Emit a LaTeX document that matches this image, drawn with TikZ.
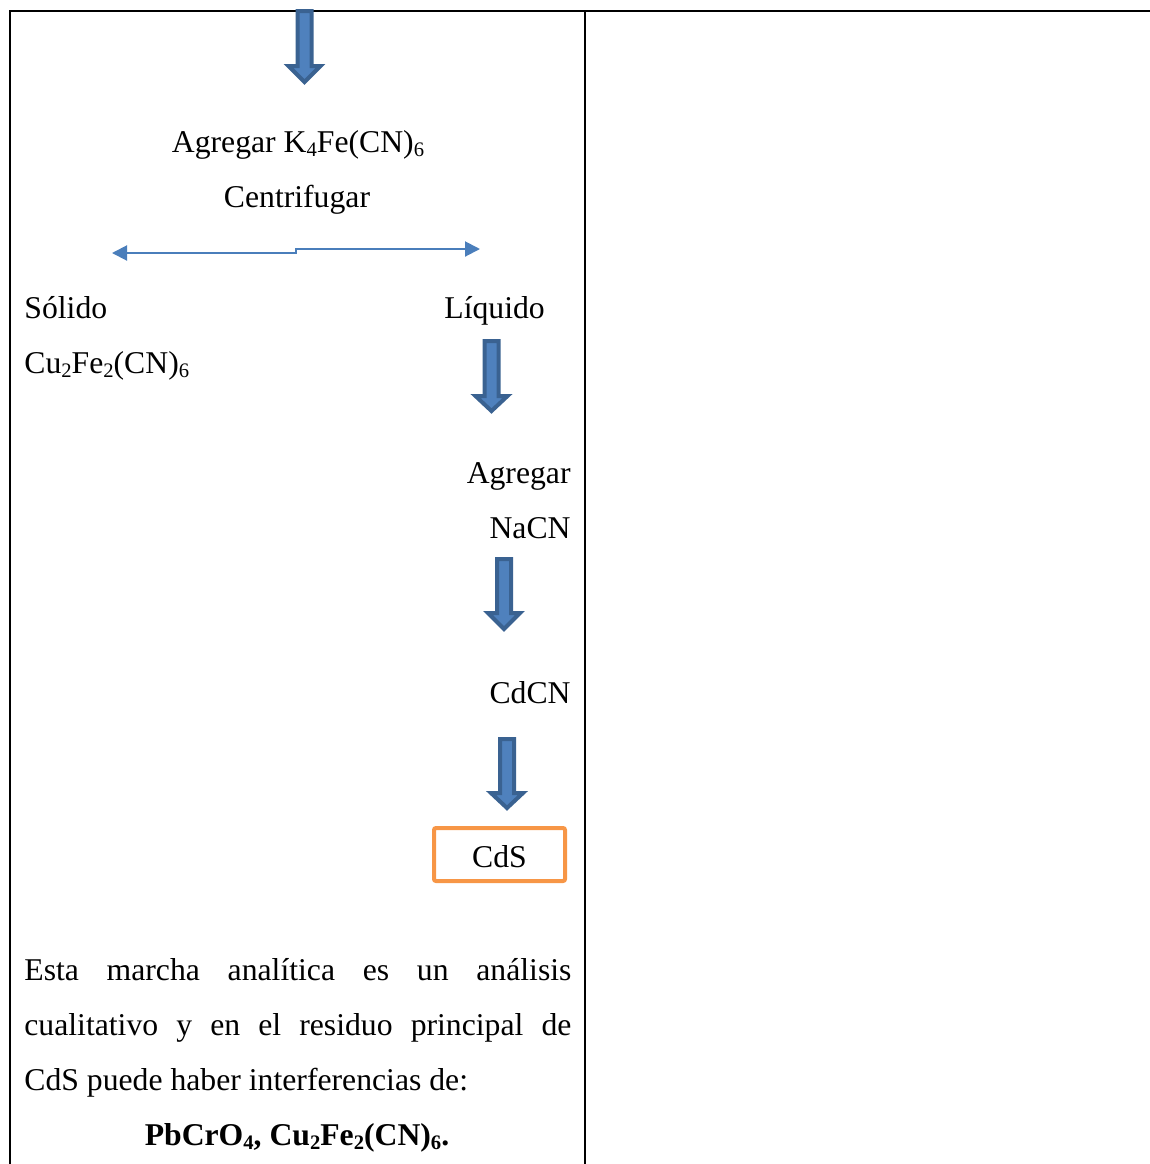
\documentclass[tikz,border=0pt]{standalone}
\usepackage{fontspec}
\setmainfont{Liberation Serif}
\usetikzlibrary{arrows.meta}

\definecolor{arrowfill}{HTML}{4F81BD}
\definecolor{arrowline}{HTML}{3A6291}
\definecolor{splitline}{HTML}{4A7EBB}
\definecolor{boxorange}{HTML}{F79646}

% chemical subscript, set as a word processor lowers it
\newcommand\sbs[1]{\raisebox{-0.13em}{\fontsize{10.3}{10}\selectfont #1}}

\tikzset{
  txt/.style={inner sep=0pt, font=\fontsize{15.85}{27.5}\selectfont},
  rule/.style={line width=1pt, black},
  split/.style={line width=1pt, splitline,
    {Triangle[length=7.5pt,width=7.5pt]}-{Triangle[length=7.5pt,width=7.5pt]}},
  result/.style={txt, draw=boxorange, line width=2pt, rounded corners=1pt,
    minimum width=65.5pt, minimum height=26.5pt, text height=13.4pt, text depth=0pt},
  pics/downarrow/.style args={#1/#2/#3}{
    code={
      \fill[arrowfill, draw=arrowline, line width=2pt, line join=miter]
        (-7,#1) -- (7,#1) -- (7,#2) -- (16,#2) -- (0,#3) -- (-16,#2) -- (-7,#2) -- cycle;
    }
  }
}

\begin{document}
\begin{tikzpicture}[x=0.5pt, y=-0.5pt]
  \useasboundingbox (0,0) rectangle (1150,1164);

  % table frame
  \draw[rule] (9,11) -- (1150,11);
  \draw[rule] (10,10) -- (10,1164);
  \draw[rule] (585,11) -- (585,1164);

  % first step
  \pic at (304.5,0) {downarrow=11/66/82};
  \node[txt, anchor=base] (agk) at (298,152) {Agregar K\sbs{4}Fe(CN)\sbs{6}};
  \node[txt, anchor=base] (centr) at (297,207) {Centrifugar};

  % separation into solid and liquid
  \coordinate (sl) at (112,253);
  \coordinate (sm1) at (296,253);
  \coordinate (sm2) at (296,249);
  \coordinate (sr) at (480,249);
  \draw[split] (sl) -- (sm1) -- (sm2) -- (sr);

  \node[txt, anchor=base west] (sol) at (24,318) {Sólido};
  \node[txt, anchor=base west] (solf) at (24,373) {Cu\sbs{2}Fe\sbs{2}(CN)\sbs{6}};
  \node[txt, anchor=base west] (liq) at (444,318) {Líquido};

  % liquid branch
  \pic at (491.5,0) {downarrow=341/396/411};
  \node[txt, anchor=base east] (agn) at (571,483) {Agregar};
  \node[txt, anchor=base east] (nacn) at (571,538) {NaCN};

  \pic at (504,0) {downarrow=559/613/629};
  \node[txt, anchor=base east] (cdcn) at (571,703) {CdCN};

  \pic at (507,0) {downarrow=739/793/808};
  \node[result] (cds) at (499.5,854.5) {CdS};

  % closing note
  \node[txt, anchor=north west, text width=273.5pt, align=justify] (note) at (24,958)
    {Esta marcha analítica es un análisis\linebreak
     cualitativo y en el residuo principal de\linebreak
     CdS puede haber interferencias de:};
  \node[txt, anchor=base, font=\fontsize{15.85}{27.5}\selectfont\bfseries] (interf) at (297,1145)
    {PbCrO\sbs{4}, Cu\sbs{2}Fe\sbs{2}(CN)\sbs{6}.};
\end{tikzpicture}
\end{document}
